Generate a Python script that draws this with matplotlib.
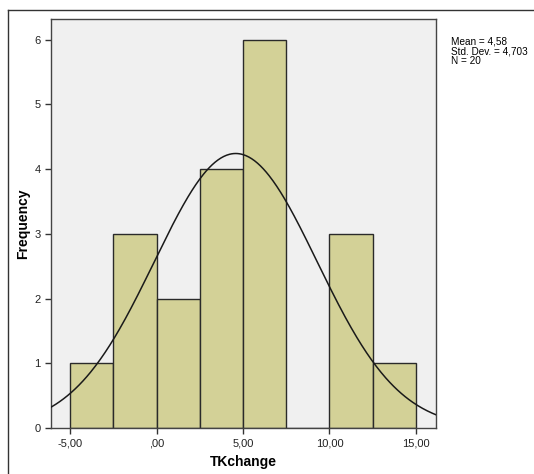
import numpy as np
import matplotlib.pyplot as plt
from matplotlib.lines import Line2D

plt.rcParams['font.family'] = ['Liberation Sans', 'DejaVu Sans']

bin_edges = [-5.0, -2.5, 0.0, 2.5, 5.0, 7.5, 10.0, 12.5, 15.0]
counts = [1, 3, 2, 4, 6, 0, 3, 1]
mean = 4.58
sd = 4.703
n = 20
xticks = [-5, 0, 5, 10, 15]
xticklabels = ["-5,00", ",00", "5,00", "10,00", "15,00"]
yticks = [0, 1, 2, 3, 4, 5, 6]

fig = plt.figure(figsize=(5.34, 4.74), dpi=100)
ax = fig.add_axes([0.0955, 0.097, 0.721, 0.863])
ax.set_facecolor("#f0f0f0")

widths = np.diff(bin_edges)
ax.bar(bin_edges[:-1], counts, width=widths, align="edge",
       color="#d3d197", edgecolor="#2a2a2a", linewidth=1.0, zorder=2)

x = np.linspace(-6.1, 16.16, 400)
bw = widths[0]
y = n * bw / (sd * np.sqrt(2 * np.pi)) * np.exp(-0.5 * ((x - mean) / sd) ** 2)
ax.plot(x, y, color="#1a1a1a", linewidth=1.1, zorder=3)

ax.set_xlim(-6.1, 16.16)
ax.set_ylim(0, 6.32)
ax.set_xticks(xticks)
ax.set_xticklabels(xticklabels, fontsize=8)
ax.set_yticks(yticks)
ax.set_yticklabels([str(t) for t in yticks], fontsize=8)
ax.tick_params(direction="out", length=4, width=1, color="#333333", labelcolor="#222222")
for s in ax.spines.values():
    s.set_color("#444444")
    s.set_linewidth(1.0)

ax.set_xlabel("TKchange", fontsize=10, fontweight="bold")
ax.set_ylabel("Frequency", fontsize=10, fontweight="bold")
ax.xaxis.set_label_coords(0.5, -0.066)
ax.yaxis.set_label_coords(-0.055, 0.5)

fig.text(451 / 534, 1 - 37 / 474,
         "Mean = 4,58\nStd. Dev. = 4,703\nN = 20",
         fontsize=7.2, va="top", ha="left", linespacing=0.95)

# outer frame
fig.add_artist(Line2D([8 / 534, 8 / 534], [0, 1 - 10 / 474], color="#333333", lw=1.0))
fig.add_artist(Line2D([8 / 534, 1], [1 - 10 / 474, 1 - 10 / 474], color="#333333", lw=1.0))

fig.savefig("out.png", dpi=100)
